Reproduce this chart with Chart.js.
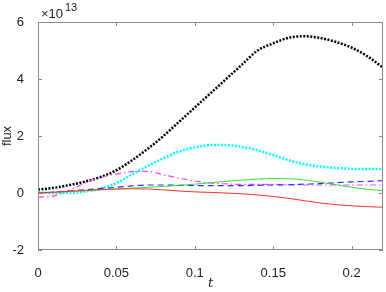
<!DOCTYPE html>
<html>
<head>
<meta charset="utf-8">
<script src="https://cdn.jsdelivr.net/npm/chart.js@4/dist/chart.umd.min.js"></script>
<style>
  html, body { margin: 0; padding: 0; background: #fff; }
  #wrap { width: 386px; height: 292px; }
</style>
</head>
<body>
<div id="wrap"><canvas id="chart" width="386" height="292"></canvas></div>
<script>
// time axis and tick labels
const tValues = [0, 0.01, 0.02, 0.03, 0.04, 0.05, 0.06, 0.07, 0.08, 0.09, 0.1, 0.11,
    0.12, 0.13, 0.14, 0.15, 0.16, 0.17, 0.18, 0.19, 0.2, 0.21, 0.22];
const xTicks = [0, 0.05, 0.1, 0.15, 0.2];
const xTickLabels = ['0', '0.05', '0.1', '0.15', '0.2'];
const yTicks = [-2, 0, 2, 4, 6];

// flux values in units of 1e13
const fluxRed = [0, 0.03, 0.06, 0.09, 0.12, 0.14, 0.15, 0.14, 0.11, 0.07, 0.04, 0.02,
    0, -0.03, -0.07, -0.12, -0.19, -0.27, -0.35, -0.41, -0.45, -0.48, -0.5];
const fluxGreen = [0, 0.02, 0.05, 0.08, 0.11, 0.14, 0.17, 0.2, 0.23, 0.27, 0.31, 0.36,
    0.41, 0.45, 0.49, 0.51, 0.5, 0.46, 0.38, 0.29, 0.2, 0.13, 0.08];
const fluxBlue = [0, 0.03, 0.07, 0.11, 0.16, 0.2, 0.25, 0.28, 0.28, 0.27, 0.26, 0.26,
    0.26, 0.26, 0.27, 0.28, 0.29, 0.31, 0.33, 0.36, 0.39, 0.41, 0.43];
const fluxCyan = [0.02, 0, 0, 0.05, 0.15, 0.35, 0.65, 0.95, 1.22, 1.45, 1.6, 1.68,
    1.68, 1.62, 1.5, 1.33, 1.15, 1.01, 0.93, 0.88, 0.85, 0.84, 0.84];
const fluxMagenta = [-0.15, -0.1, 0.1, 0.35, 0.55, 0.66, 0.75, 0.76, 0.64, 0.52, 0.42, 0.35,
    0.32, 0.3, 0.3, 0.3, 0.29, 0.28, 0.28, 0.28, 0.28, 0.28, 0.28];
const fluxBlack = [0.12, 0.18, 0.28, 0.4, 0.56, 0.8, 1.15, 1.55, 2.0, 2.5, 3.0, 3.5,
    4.0, 4.5, 5.0, 5.25, 5.45, 5.5, 5.44, 5.3, 5.1, 4.8, 4.4];

const axisColor = '#8a8a8a';
const fontFamily = '"Liberation Sans", Arial, sans-serif';

function toPoints(values) {
    return tValues.map((t, i) => ({ x: t, y: values[i] }));
}

function makeSeries(values, color, width, dash) {
    return {
        data: toPoints(values),
        borderColor: color,
        borderWidth: width,
        borderDash: dash,
        pointRadius: 0,
        fill: false,
        cubicInterpolationMode: 'monotone'
    };
}

// box around the plot, inward ticks on all sides, and the exponent label
const matlabAxes = {
    id: 'matlabAxes',
    afterDraw(chart) {
        const { ctx, chartArea: a, scales } = chart;
        const len = 4;
        ctx.save();
        ctx.strokeStyle = axisColor;
        ctx.lineWidth = 1;
        ctx.strokeRect(a.left + 0.5, a.top + 0.5, a.right - a.left - 1, a.bottom - a.top - 1);
        ctx.beginPath();
        xTicks.forEach(v => {
            const px = Math.round(scales.x.getPixelForValue(v)) + 0.5;
            ctx.moveTo(px, a.bottom); ctx.lineTo(px, a.bottom - len);
            ctx.moveTo(px, a.top); ctx.lineTo(px, a.top + len);
        });
        yTicks.forEach(v => {
            const py = Math.round(scales.y.getPixelForValue(v)) + 0.5;
            ctx.moveTo(a.left, py); ctx.lineTo(a.left + len, py);
            ctx.moveTo(a.right, py); ctx.lineTo(a.right - len, py);
        });
        ctx.stroke();

        ctx.fillStyle = '#222';
        ctx.textBaseline = 'alphabetic';
        ctx.textAlign = 'left';
        ctx.font = '13px ' + fontFamily;
        ctx.fillText('\u00d710', a.left + 3, 18);
        ctx.font = '11px ' + fontFamily;
        ctx.fillText('13', a.left + 27, 11);
        ctx.restore();
    }
};

new Chart(document.getElementById('chart'), {
    type: 'line',
    data: {
        datasets: [
            makeSeries(fluxRed, '#ff3030', 1, []),
            makeSeries(fluxGreen, '#30e030', 1, []),
            makeSeries(fluxBlue, '#3030ff', 1.2, [6, 4]),
            makeSeries(fluxCyan, '#00ffff', 2.5, [2, 1.5]),
            makeSeries(fluxMagenta, '#ff40ff', 1.2, [6, 3, 1.5, 3]),
            makeSeries(fluxBlack, '#000000', 2.5, [2, 1.5])
        ]
    },
    plugins: [matlabAxes],
    options: {
        responsive: false,
        animation: false,
        events: [],
        layout: { padding: { left: 0, top: 22, right: 3, bottom: 0 } },
        plugins: {
            legend: { display: false },
            tooltip: { enabled: false }
        },
        scales: {
            x: {
                type: 'linear',
                min: 0,
                max: 0.22,
                afterBuildTicks: scale => { scale.ticks = xTicks.map(v => ({ value: v })); },
                afterFit: scale => { scale.height = 42; },
                grid: { display: false },
                border: { display: false },
                ticks: {
                    color: '#222',
                    font: { family: fontFamily, size: 13 },
                    padding: 8,
                    maxRotation: 0,
                    callback: value => xTickLabels[xTicks.indexOf(value)]
                },
                title: {
                    display: true,
                    text: 't',
                    color: '#222',
                    font: { family: '"DejaVu Serif", serif', size: 13, style: 'italic' },
                    padding: { top: 0, bottom: 1 }
                }
            },
            y: {
                min: -2,
                max: 6,
                afterBuildTicks: scale => { scale.ticks = yTicks.map(v => ({ value: v })); },
                afterFit: scale => { scale.width = 38; },
                grid: { display: false },
                border: { display: false },
                ticks: {
                    color: '#222',
                    font: { family: fontFamily, size: 13 },
                    padding: 6
                },
                title: {
                    display: true,
                    text: 'flux',
                    color: '#222',
                    font: { family: fontFamily, size: 13 },
                    padding: { top: 0, bottom: 2 }
                }
            }
        }
    }
});
</script>
</body>
</html>
